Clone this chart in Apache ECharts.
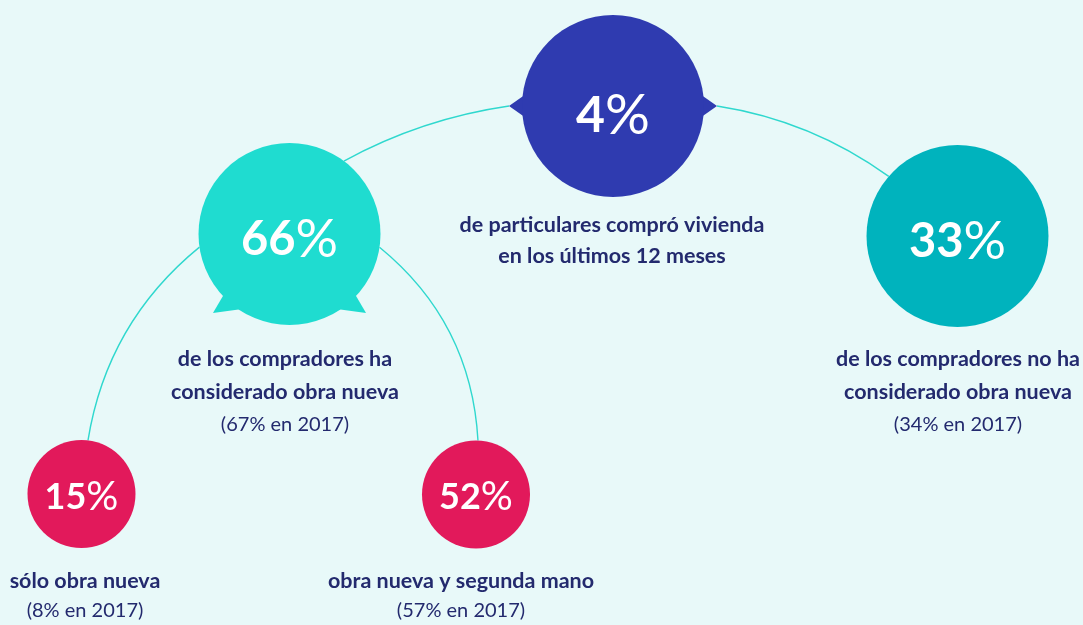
<!DOCTYPE html>
<html>
<head>
<meta charset="utf-8">
<script src="https://cdn.jsdelivr.net/npm/echarts@6/dist/echarts.min.js"></script>
<style>
html,body{margin:0;padding:0;background:#E8F9F9;}
#chart{width:1083px;height:625px;}
</style>
</head>
<body>
<div id="chart"></div>
<script>
// ---------------- data ----------------
const nodeNames = ['compraron', 'consideraObraNueva', 'noConsideraObraNueva', 'soloObraNueva', 'obraNuevaYSegundaMano'];
const percentValues = [4, 66, 33, 15, 52];
const descriptionLines = [
  ['de particulares compró vivienda', 'en los últimos 12 meses'],
  ['de los compradores ha', 'considerado obra nueva'],
  ['de los compradores no ha', 'considerado obra nueva'],
  ['sólo obra nueva'],
  ['obra nueva y segunda mano']
];
const previousValues = [null, 67, 34, 8, 57];
const previousYear = '2017';
const linkSources = [0, 0, 1, 1];
const linkTargets = [1, 2, 3, 4];

// ---------------- layout (positions, sizes, styles) ----------------
const nodeX = [613, 289.5, 957.5, 81.5, 476];
const nodeY = [106, 234, 236, 494, 494.5];
const nodeR = [91, 91, 91, 54, 54];
const nodeColors = ['#2F3BB0', '#1FDCD0', '#00B3BD', '#E2195B', '#E2195B'];
const pctFontSize = [50, 47, 47, 36, 36];
const pctSignSize = [56, 53, 53, 40, 40];
const pctOffsetY = [10, 6, 6, 3, 3];
const labelX = [612, 285, 958, 85, 461];
const labelTop = [210, 343, 343, 566, 566];
const labelLineHeight = [31, 32.5, 32.5, 30, 30];
// tails: [node, tipAngle, tipDistance, baseAngle1, baseAngle2]
const tails = [
  [0, 180, 104, 174, 186],
  [0, 0, 104, -6, 6],
  [1, 134.1, 110, 124, 137],
  [1, 45.9, 110, 56, 43]
];
const linkStartAngle = [180, 0, 171.7, 8.4];
const linkStartExtra = [13, 13, 0, 0];
const linkEndAngle = [-53.3, -139.1, -83.1, -87.9];
const linkCurveness = [-0.09, 0.12, -0.19, 0.22];

const navy = '#232A6E';
const lineColor = '#2FD8CE';
const FONT = 'Lato, "Noto Sans", sans-serif';

function anchor(i, angleDeg, extra) {
  const a = angleDeg * Math.PI / 180;
  const d = nodeR[i] + (extra || 0);
  return [nodeX[i] + d * Math.cos(a), nodeY[i] + d * Math.sin(a)];
}

const linkData = linkSources.map((s, k) => ({
  coords: [anchor(s, linkStartAngle[k], linkStartExtra[k]), anchor(linkTargets[k], linkEndAngle[k], 0)],
  lineStyle: { curveness: linkCurveness[k] }
}));

function renderNode(params, api) {
  const i = params.dataIndex;
  const c = api.coord([api.value(0), api.value(1)]);
  const r = api.size([nodeR[i], 0])[0];
  const color = nodeColors[i];
  const children = [];
  const pt = (a, d) => [c[0] + d * Math.cos(a * Math.PI / 180), c[1] + d * Math.sin(a * Math.PI / 180)];
  tails.filter(t => t[0] === i).forEach(t => {
    children.push({
      type: 'polygon',
      shape: { points: [c, pt(t[3], r), pt(t[1], t[2]), pt(t[4], r)] },
      style: { fill: color }
    });
  });
  children.push({ type: 'circle', shape: { cx: c[0], cy: c[1], r: r }, style: { fill: color } });
  children.push({
    type: 'text',
    style: {
      text: '{d|' + percentValues[i] + '}{p|%}',
      x: c[0], y: c[1] + pctOffsetY[i],
      align: 'center', verticalAlign: 'middle',
      rich: {
        d: { fontSize: pctFontSize[i], fontWeight: 700, fontFamily: FONT, fill: '#FFFFFF' },
        p: { fontSize: pctSignSize[i], fontWeight: 400, fontFamily: FONT, fill: '#FFFFFF' }
      }
    }
  });
  const lp = api.coord([labelX[i], labelTop[i]]);
  let txt = descriptionLines[i].map(l => '{b|' + l + '}').join('\n');
  if (previousValues[i] != null) txt += '\n{n|(' + previousValues[i] + '% en ' + previousYear + ')}';
  children.push({
    type: 'text',
    style: {
      text: txt,
      x: lp[0], y: lp[1],
      align: 'center', verticalAlign: 'top',
      rich: {
        b: { fontSize: 21.5, fontWeight: 700, fontFamily: FONT, fill: navy, lineHeight: labelLineHeight[i] },
        n: { fontSize: 20, fontWeight: 400, fontFamily: FONT, fill: navy, lineHeight: labelLineHeight[i] }
      }
    }
  });
  return { type: 'group', children: children };
}

const chart = echarts.init(document.getElementById('chart'));
chart.setOption({
  backgroundColor: '#E8F9F9',
  animation: false,
  grid: { left: 0, right: 0, top: 0, bottom: 0 },
  xAxis: { type: 'value', min: 0, max: 1083, show: false },
  yAxis: { type: 'value', min: 0, max: 625, inverse: true, show: false },
  series: [
    {
      type: 'lines',
      coordinateSystem: 'cartesian2d',
      z: 1,
      silent: true,
      lineStyle: { color: lineColor, width: 1.4, opacity: 1 },
      data: linkData
    },
    {
      type: 'custom',
      coordinateSystem: 'cartesian2d',
      z: 2,
      clip: false,
      renderItem: renderNode,
      data: nodeNames.map((n, i) => ({ name: n, value: [nodeX[i], nodeY[i], percentValues[i]] }))
    }
  ]
});
</script>
</body>
</html>
